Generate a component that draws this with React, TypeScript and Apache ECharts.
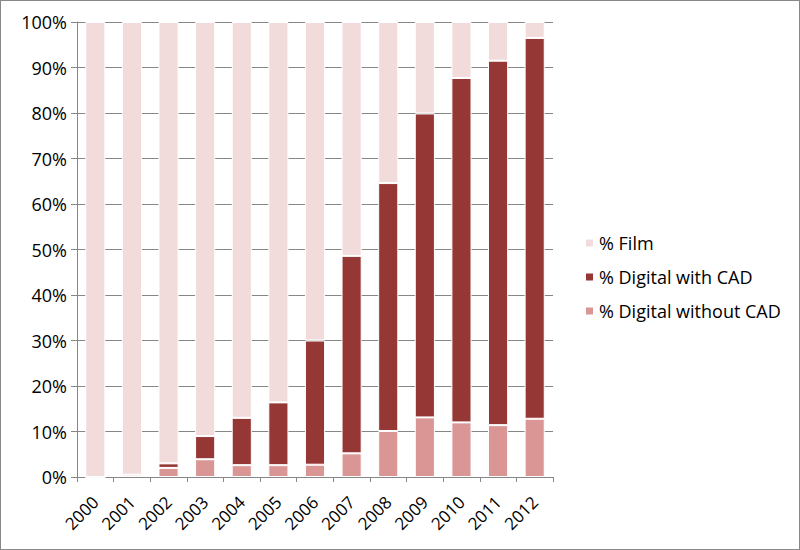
import React, { useEffect, useRef } from "react";
import * as echarts from "echarts";

const years = ["2000","2001","2002","2003","2004","2005","2006","2007","2008","2009","2010","2011","2012"];
const digitalWithoutCad = [0, 0.5, 2.0, 3.9, 2.6, 2.6, 2.7, 5.2, 10.1, 13.1, 12.0, 11.4, 12.8];
const digitalWithCad = [0, 0, 1.0, 5.1, 10.4, 13.8, 27.3, 43.4, 54.5, 66.8, 75.7, 80.1, 83.7];
const film = [100, 99.5, 97.0, 91.0, 87.0, 83.6, 70.0, 51.4, 35.4, 20.1, 12.3, 8.5, 3.5];
const yTicks = [0, 10, 20, 30, 40, 50, 60, 70, 80, 90, 100];

export default function App() {
  const ref = useRef<HTMLDivElement>(null);
  useEffect(() => {
    const chart = echarts.init(ref.current!, null, { renderer: "svg" });
    const font = "Open Sans";
    const barW = "55%";
    const mk = (name: string, data: number[], color: string) => ({
      name,
      type: "bar",
      stack: "total",
      barWidth: barW,
      data,
      itemStyle: { color, borderColor: "#ffffff", borderWidth: 1 },
    });
    chart.setOption({
      animation: false,
      backgroundColor: "#ffffff",
      grid: { left: 76, right: 246, top: 21, bottom: 72, containLabel: false },
      legend: {
        orient: "vertical",
        left: 578,
        top: 225,
        itemWidth: 9,
        itemHeight: 9,
        itemGap: 10,
        icon: "rect",
        data: ["% Film", "% Digital with CAD", "% Digital without CAD"],
        textStyle: { fontFamily: font, fontSize: 18, color: "#000", lineHeight: 24 },
      },
      xAxis: {
        type: "category",
        data: years,
        axisLine: { lineStyle: { color: "#868686" } },
        axisTick: { show: true, lineStyle: { color: "#868686" }, length: 5 },
        axisLabel: { rotate: 45, fontFamily: font, fontSize: 17, color: "#000", margin: 22 },
      },
      yAxis: {
        type: "value",
        min: 0,
        max: 100,
        interval: 10,
        axisLine: { show: true, lineStyle: { color: "#868686" } },
        axisTick: { show: true, lineStyle: { color: "#868686" }, length: 6 },
        splitLine: { lineStyle: { color: "#868686" } },
        axisLabel: {
          fontFamily: font,
          fontSize: 18,
          color: "#000",
          margin: 10,
          formatter: (v: number) => (yTicks.includes(v) ? v + "%" : ""),
        },
      },
      series: [
        mk("% Digital without CAD", digitalWithoutCad, "#d99694"),
        mk("% Digital with CAD", digitalWithCad, "#953735"),
        mk("% Film", film, "#f2dcdb"),
      ],
    });
    return () => chart.dispose();
  }, []);
  return (
    <div
      style={{
        position: "fixed",
        left: 0,
        top: 0,
        width: 800,
        height: 550,
        boxSizing: "border-box",
        border: "1px solid #888",
        background: "#fff",
      }}
    >
      <div ref={ref} style={{ width: 798, height: 548 }} />
    </div>
  );
}
